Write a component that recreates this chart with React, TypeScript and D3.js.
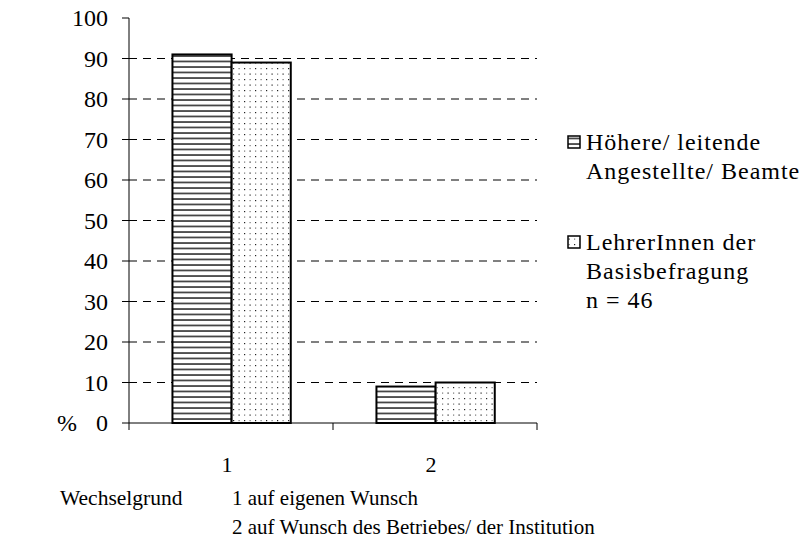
import React from 'react';
import * as d3 from 'd3';

const categories = ['1', '2'];
const seriesKeys = ['s1', 's2'];
const series1 = [91, 9];
const series2 = [89, 10];
const yTicks = [0, 10, 20, 30, 40, 50, 60, 70, 80, 90, 100];
const gridTicks = [10, 20, 30, 40, 50, 60, 70, 80, 90];
const legendLines1 = ['Höhere/ leitende', 'Angestellte/ Beamte'];
const legendLines2 = ['LehrerInnen der', 'Basisbefragung', 'n = 46'];
const footnotes = ['1 auf eigenen Wunsch', '2 auf Wunsch des Betriebes/ der Institution'];
const xTitle = 'Wechselgrund';
const yUnit = '%';

const T = (fs: number, extra: React.CSSProperties = {}): React.CSSProperties => ({ fontFamily: '"Liberation Serif"', fontSize: fs, ...extra });

export default function App() {
  const left = 129, right = 537, top = 18, bottom = 423;
  const y = d3.scaleLinear().domain([0, 100]).range([bottom, top]);
  const x0 = d3.scaleBand().domain(categories).range([left, right]).padding(0);
  const bw = x0.bandwidth();
  const x1 = d3.scaleBand().domain(seriesKeys).range([bw * 0.213, bw * 0.793]).padding(0);
  const values = [series1, series2];
  const fills = ['url(#stripes)', 'url(#dots)'];

  return (
    <svg width={810} height={543} style={{ position: 'absolute', left: 0, top: 0, background: '#fff' }}>
      <defs>
        <pattern id="stripes" patternUnits="userSpaceOnUse" width={8} height={5.5}>
          <rect width={8} height={5.5} fill="#fff" />
          <line x1={0} x2={8} y1={1} y2={1} stroke="#111" strokeWidth={1.4} />
        </pattern>
        <pattern id="dots" patternUnits="userSpaceOnUse" width={11} height={11}>
          <rect width={11} height={11} fill="#fff" />
          <rect x={2} y={2} width={1.2} height={1.2} fill="#222" />
          <rect x={7.5} y={7.5} width={1.2} height={1.2} fill="#222" />
          <rect x={7.5} y={2} width={1.2} height={1.2} fill="#777" />
          <rect x={2} y={7.5} width={1.2} height={1.2} fill="#777" />
        </pattern>
      </defs>

      {gridTicks.map(t => (
        <line key={'g' + t} x1={left} x2={right} y1={y(t)} y2={y(t)} stroke="#000" strokeWidth={1} strokeDasharray="8,6" />
      ))}

      {categories.map((c, i) => (
        <g key={c}>
          {seriesKeys.map((k, j) => {
            const v = values[j][i];
            const bx = (x0(c) as number) + (x1(k) as number);
            return (
              <rect key={k} x={bx} y={y(v)} width={x1.bandwidth()} height={y(0) - y(v)}
                fill={fills[j]} stroke="#000" strokeWidth={2} />
            );
          })}
        </g>
      ))}

      {/* y axis */}
      <line x1={left} x2={left} y1={top} y2={bottom} stroke="#000" strokeWidth={1} />
      {yTicks.map(t => (
        <g key={'y' + t}>
          <line x1={left - 7} x2={left} y1={y(t)} y2={y(t)} stroke="#000" strokeWidth={1} />
          <text x={left - 21} y={y(t)} dy="0.35em" textAnchor="end" style={T(24)}>{t}</text>
        </g>
      ))}
      <text x={57} y={y(0)} dy="0.35em" style={T(24)}>{yUnit}</text>

      {/* x axis */}
      <line x1={left} x2={right} y1={bottom} y2={bottom} stroke="#000" strokeWidth={1} />
      {[left, ...categories.map(c => (x0(c) as number) + bw)].map((tx, i) => (
        <line key={'xt' + i} x1={tx} x2={tx} y1={bottom} y2={bottom + 7} stroke="#000" strokeWidth={1} />
      ))}
      {categories.map(c => (
        <text key={'xl' + c} x={(x0(c) as number) + bw / 2 - 4} y={472} textAnchor="middle" style={T(22)}>{c}</text>
      ))}

      <text x={60} y={505} style={T(21.5)}>{xTitle}</text>
      {footnotes.map((f, i) => (
        <text key={'f' + i} x={232} y={505 + i * 29} style={T(21)}>{f}</text>
      ))}

      {/* legend */}
      <rect x={568} y={136} width={12} height={12} fill="url(#stripes)" stroke="#000" strokeWidth={1.5} />
      {legendLines1.map((l, i) => (
        <text key={'l1' + i} x={586} y={150 + i * 29} style={T(24, { letterSpacing: '1px' })}>{l}</text>
      ))}
      <rect x={568} y={236} width={12} height={12} fill="url(#dots)" stroke="#000" strokeWidth={1.5} />
      {legendLines2.map((l, i) => (
        <text key={'l2' + i} x={586} y={250 + i * 29} style={T(24, { letterSpacing: '1px' })}>{l}</text>
      ))}
    </svg>
  );
}
